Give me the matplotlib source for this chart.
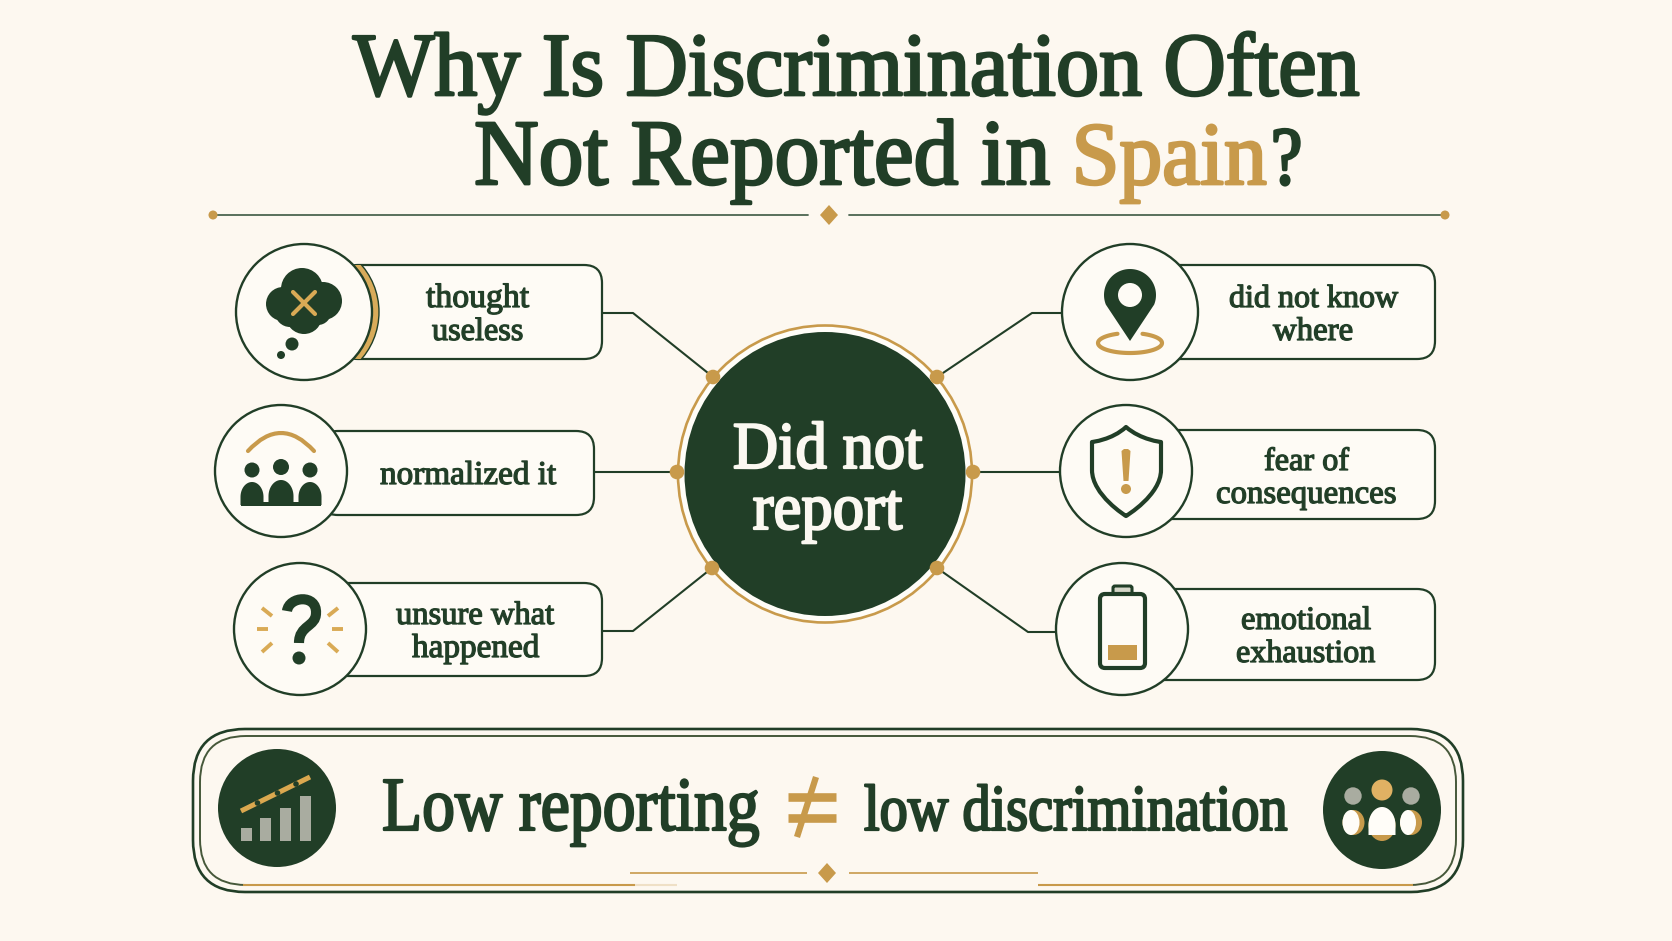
import numpy as np
import matplotlib
matplotlib.use('Agg')
import matplotlib.pyplot as plt
import matplotlib.patheffects as pe
from matplotlib.patches import Circle, Ellipse, FancyBboxPatch, PathPatch, Polygon, Rectangle
from matplotlib.path import Path
from matplotlib.transforms import Affine2D

BG = '#fdf8f0'
PAPER = '#fefbf5'
DARK = '#213e27'
GOLD = '#c89a4b'
GREY = '#a9aca0'

title_line1 = 'Why Is Discrimination Often'
title_line2 = 'Not Reported in'
title_accent = 'Spain'
center_label = ['Did not', 'report']
left_labels = [['thought', 'useless'], ['normalized it'], ['unsure what', 'happened']]
right_labels = [['did not know', 'where'], ['fear of', 'consequences'], ['emotional', 'exhaustion']]
footer_left = 'Low reporting'
footer_right = 'low discrimination'
chart_bars = [13, 23, 33, 45]

fig = plt.figure(figsize=(16.72, 9.41), dpi=100, facecolor=BG)
ax = fig.add_axes([0, 0, 1, 1])
ax.set_xlim(0, 1672)
ax.set_ylim(941, 0)
ax.axis('off')
renderer = fig.canvas.get_renderer()


class Squeezed(pe.AbstractPathEffect):
    # the reference serif is narrower than anything installed, so pinch the glyphs sideways
    def __init__(self, sx, x0, lw, color):
        super().__init__()
        self.sx, self.x0, self.lw, self.color = sx, x0, lw, color

    def draw_path(self, renderer, gc, tpath, affine, rgbFace=None):
        gc0 = renderer.new_gc()
        gc0.copy_properties(gc)
        gc0.set_linewidth(self.lw)
        gc0.set_foreground(self.color)
        a = affine + Affine2D().translate(-self.x0, 0).scale(self.sx, 1).translate(self.x0, 0)
        renderer.draw_path(gc0, tpath, a, rgbFace)
        gc0.restore()


def fit_text(s, x0, x1, y, color=DARK, stroke=0.9, squeeze=1.0, z=10, anchor='left'):
    # scale the font so the text runs from x0 to x1, y is the baseline
    xa = x0 if anchor == 'left' else x1
    t = ax.text(xa, y, s, color=color, fontsize=40, family='Liberation Serif',
                ha=anchor, va='baseline', zorder=z)
    w = t.get_window_extent(renderer).width
    t.set_fontsize(40 * (x1 - x0) / w / squeeze)
    t.set_path_effects([Squeezed(squeeze, xa, stroke, color)])
    return t


def line(xs, ys, color=DARK, lw=1.5, z=2, cap='round', alpha=1.0):
    ax.plot(xs, ys, color=color, lw=lw, zorder=z, solid_capstyle=cap, solid_joinstyle='round', alpha=alpha)


def disc(x, y, r, color=DARK, z=6):
    p = Circle((x, y), r, fc=color, ec='none', zorder=z)
    ax.add_patch(p)
    return p


def diamond(x, y, w, h, z=5):
    ax.add_patch(Polygon([(x - w, y), (x, y - h), (x + w, y), (x, y + h)], fc=GOLD, ec='none', zorder=z))


def rbox(x0, y0, x1, y1, r, fc=PAPER, ec=DARK, lw=1.6, z=3):
    p = FancyBboxPatch((x0 + r, y0 + r), x1 - x0 - 2 * r, y1 - y0 - 2 * r,
                       boxstyle='round,pad=%f,rounding_size=%f' % (r, r),
                       fc=fc, ec=ec, lw=lw, zorder=z)
    ax.add_patch(p)
    return p


def curve(verts, codes, fc='none', ec=DARK, lw=2.5, z=6, **kw):
    p = PathPatch(Path(verts, codes), fc=fc, ec=ec, lw=lw, zorder=z, **kw)
    ax.add_patch(p)
    return p


def person(cx, w, top, bottom, color, z=6):
    # round shouldered body
    a = np.linspace(np.pi, 0, 40)
    h = (bottom - top) * 0.65
    xs = cx + w / 2 * np.cos(a)
    ys = top + h - h * np.sin(a)
    pts = list(zip(xs, ys)) + [(cx + w / 2, bottom), (cx - w / 2, bottom)]
    p = Polygon(pts, fc=color, ec='none', zorder=z)
    ax.add_patch(p)
    return p


# title
fit_text(title_line1, 353, 1358, 95, stroke=2.0, squeeze=0.96)
fit_text(title_line2, 475, 1050, 184, stroke=2.0, squeeze=0.96, anchor='right')
fit_text(title_accent, 1072, 1267, 184, color=GOLD, stroke=2.0, squeeze=0.96, anchor='right')
fit_text('?', 1271, 1302, 184, stroke=2.0, squeeze=0.85)

# divider under the title
line([213, 808], [215, 215], color='#4b6550', lw=1.3)
line([849, 1445], [215, 215], color='#4b6550', lw=1.3)
disc(213, 215, 4.5, GOLD)
disc(1445, 215, 4.5, GOLD)
diamond(829, 215, 9, 10)

# connectors
line([602, 633, 713], [313, 313, 377])
line([594, 677], [472, 472])
line([602, 633, 712], [631, 631, 568])
line([1062, 1032, 937], [313, 313, 377])
line([1060, 973], [472, 472])
line([1056, 1028, 937], [632, 632, 568])

# centre circle
ax.add_patch(Ellipse((825, 474), 294, 297, fc='#fffdf8', ec=GOLD, lw=1.9, zorder=3))
ax.add_patch(Ellipse((825, 474), 281, 284, fc=DARK, ec='none', zorder=4))
for dx, dy in [(713, 377), (677, 472), (712, 568), (937, 377), (973, 472), (937, 568)]:
    disc(dx, dy, 7.3, GOLD, z=5)
ax.text(827.5, 529, '\n'.join(center_label), color='#fbf8f1', fontsize=48, family='Liberation Serif',
        ha='center', va='baseline', multialignment='center', linespacing=1.0, zorder=10,
        path_effects=[Squeezed(0.94, 827.5, 1.6, '#fbf8f1')])

# label boxes
box1 = rbox(340, 265, 602, 359, 18)
rbox(320, 431, 594, 515, 18)
rbox(330, 583, 602, 676, 18)
rbox(1130, 265, 1435, 359, 18)
rbox(1126, 430, 1435, 519, 18)
rbox(1122, 589, 1435, 680, 18)

# gold crescent behind first icon
crescent = Circle((307, 312), 72, fc='#d8ab5a', ec=DARK, lw=1.0, zorder=3.5)
ax.add_patch(crescent)
crescent.set_clip_path(box1)

# icon circles
icon_circles = [(304, 312, 68), (281, 471, 66), (300, 629, 66),
                (1130, 312, 68), (1126, 471, 66), (1122, 629, 66)]
for cx, cy, r in icon_circles:
    ax.add_patch(Circle((cx, cy), r, fc=PAPER, ec=DARK, lw=1.7, zorder=4))

# box labels
fit_text(left_labels[0][0], 426, 529, 307)
fit_text(left_labels[0][1], 432, 523, 340)
fit_text(left_labels[1][0], 380, 556, 484)
fit_text(left_labels[2][0], 396, 554, 624)
fit_text(left_labels[2][1], 412, 539, 657)
fit_text(right_labels[0][0], 1229, 1398, 307)
fit_text(right_labels[0][1], 1273, 1353, 340)
fit_text(right_labels[1][0], 1264, 1349, 470)
fit_text(right_labels[1][1], 1216, 1396, 503)
fit_text(right_labels[2][0], 1241, 1371, 629)
fit_text(right_labels[2][1], 1236, 1375, 662)

# cloud icon
for bx, by, br in [(302, 289, 21), (283, 304, 17), (323, 301, 19), (304, 316, 18), (290, 312, 15), (318, 312, 13), (304, 303, 20)]:
    disc(bx, by, br)
line([293, 315], [314, 292], color='#d9aa55', lw=3.0, z=7)
line([293, 315], [292, 314], color='#d9aa55', lw=3.0, z=7)
disc(292, 344, 6.5)
disc(281, 355, 4)

# people icon
for hx, hy, hr in [(252, 470, 7.5), (281, 467, 8), (310, 470, 7.5)]:
    disc(hx, hy, hr)
person(252, 23, 482, 505, DARK)
person(281, 25, 480, 505, DARK)
person(310, 23, 482, 505, DARK)
ax.add_patch(Rectangle((241, 502), 80, 3.5, fc=DARK, ec='none', zorder=6))
curve([(248, 451), (281, 415), (314, 451)], [Path.MOVETO, Path.CURVE3, Path.CURVE3], ec=GOLD, lw=3.0, capstyle='round')

# question mark icon
curve([(287, 611), (289, 596), (317, 594), (316, 613), (316, 627), (299, 625), (299, 643)],
      [Path.MOVETO] + [Path.CURVE4] * 6, lw=7.3, capstyle='butt')
disc(299, 658, 6.5)
for rx, ry in [((262, 272), (608, 616)), ((257, 268), (629, 629)), ((262, 272), (652, 643)),
               ((338, 328), (608, 616)), ((332, 343), (629, 629)), ((338, 328), (652, 643))]:
    line(rx, ry, color='#d9aa55', lw=2.8, z=6, cap='butt')

# pin icon
pin_t = np.linspace(-0.12 * np.pi, 1.12 * np.pi, 60)
pin_pts = [(1130, 341)] + [(1130 + 26 * np.cos(t), 295 - 26 * np.sin(t)) for t in pin_t]
ax.add_patch(Polygon(pin_pts, fc=DARK, ec='none', zorder=6))
disc(1130, 295, 12, PAPER, z=7)
ring_t = np.radians(np.linspace(113, 427, 100))
line(1130 + 32 * np.cos(ring_t), 343 - 10 * np.sin(ring_t), color=GOLD, lw=3.0, z=5)

# shield icon
shield_verts = [(1126, 427), (1112, 440), (1092, 442), (1092, 442), (1092, 470),
                (1092, 495), (1126, 516), (1126, 516), (1126, 516), (1161, 495), (1161, 470),
                (1161, 442), (1161, 442), (1141, 440), (1126, 427), (1126, 427)]
shield_codes = [Path.MOVETO, Path.CURVE4, Path.CURVE4, Path.CURVE4, Path.LINETO,
                Path.CURVE4, Path.CURVE4, Path.CURVE4, Path.CURVE4, Path.CURVE4, Path.CURVE4,
                Path.LINETO, Path.CURVE4, Path.CURVE4, Path.CURVE4, Path.CLOSEPOLY]
curve(shield_verts, shield_codes, lw=3.0, joinstyle='round')
ax.add_patch(Polygon([(1121.5, 451), (1124, 449), (1128, 449), (1130.5, 451), (1128.5, 481), (1123.5, 481)],
                     fc=GOLD, ec='none', zorder=6))
disc(1126, 489, 5, GOLD)

# battery icon
rbox(1113, 586, 1132, 597, 2, fc='#d5d6c8', lw=2.2, z=5)
rbox(1100, 594, 1145, 668, 5, fc=PAPER, lw=3.0, z=6)
ax.add_patch(Rectangle((1108, 645), 29, 15, fc=GOLD, ec='none', zorder=7))

# footer banner
rbox(193, 729, 1463, 892, 52, fc='none', lw=1.9, z=2)
rbox(200, 736, 1456, 885, 46, fc='none', ec='#46583a', lw=1.4, z=2)
fit_text(footer_left, 382, 759, 830, stroke=1.6, squeeze=0.86)
fit_text(footer_right, 864, 1287, 830, stroke=1.6, squeeze=0.86)

# not-equal sign
line([788, 836], [796.5, 796.5], color=GOLD, lw=6.2, cap='butt', z=6)
line([788, 836], [817.5, 817.5], color=GOLD, lw=6.2, cap='butt', z=6)
line([816, 797], [777, 837], color=GOLD, lw=4.5, cap='butt', z=6)

# footer gold rules
ax.add_patch(Rectangle((635, 882), 403, 6, fc=BG, ec='none', zorder=2.5))
line([243, 635], [885, 885], color=GOLD, lw=1.5, z=3, cap='butt')
line([635, 677], [885, 885], color=GOLD, lw=1.5, z=3, cap='butt', alpha=0.25)
line([1038, 1413], [885, 885], color=GOLD, lw=1.5, z=3, cap='butt')
line([630, 807], [873, 873], color=GOLD, lw=1.2, cap='butt')
line([849, 1038], [873, 873], color=GOLD, lw=1.2, cap='butt')
diamond(827, 873, 9, 10)

# footer left icon: rising bars under a dashed trend line
disc(277, 808, 59, DARK, z=3)
bar_x = [241, 260, 280, 300]
for x, h in zip(bar_x, chart_bars):
    ax.add_patch(Rectangle((x, 841 - h), 11, h, fc=GREY, ec='none', zorder=4))
line([241, 310], [811, 777], color='#dba84f', lw=3.6, z=5, cap='butt')
for gx, gy in [(257.5, 803), (277.5, 793), (296, 784)]:
    disc(gx, gy, 2.8, DARK, z=5.5)

# footer right icon: group of people
disc(1382, 810, 59, DARK, z=3)
disc(1382, 790, 10.5, '#e0b163', z=4)
disc(1353, 796, 8.7, GREY, z=4)
disc(1411, 796, 8.7, GREY, z=4)
ax.add_patch(Ellipse((1353.5, 822.5), 22, 25, fc=GOLD, ec='none', zorder=4))
ax.add_patch(Ellipse((1411, 822.5), 22, 25, fc=GOLD, ec='none', zorder=4))
ax.add_patch(Ellipse((1382, 825), 27, 32, fc=GOLD, ec='none', zorder=4))
ax.add_patch(Ellipse((1351, 822.5), 17, 25, fc='#fffdf8', ec='none', zorder=5))
ax.add_patch(Ellipse((1408, 822.5), 16, 25, fc='#fffdf8', ec='none', zorder=5))
person(1382, 27, 807, 835, '#fffdf8', z=5)

plt.savefig('out.png', dpi=100, facecolor=BG)
